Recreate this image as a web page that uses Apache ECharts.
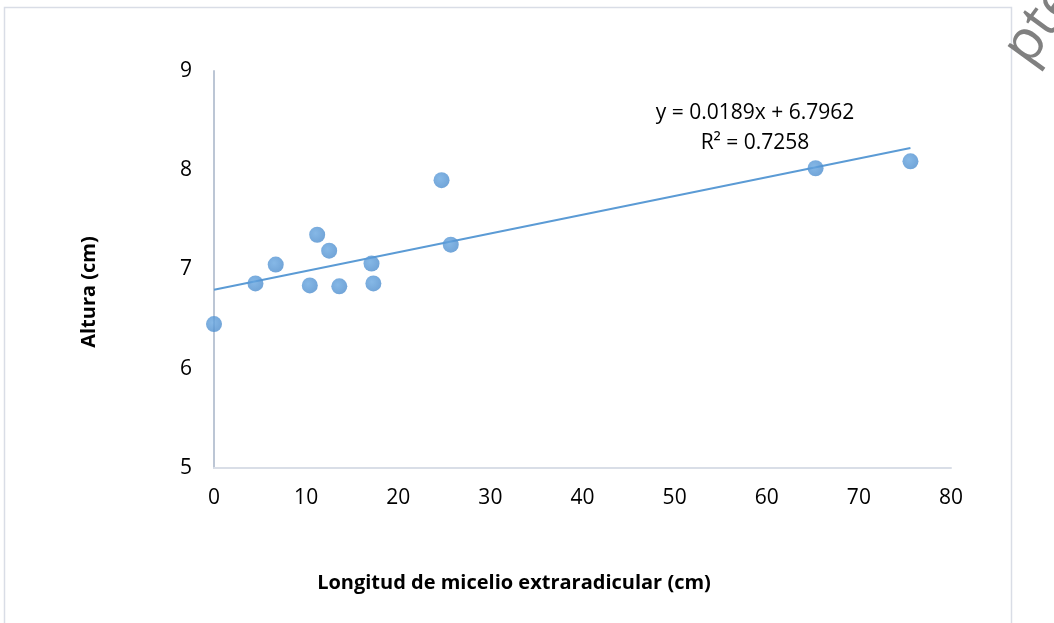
<!DOCTYPE html>
<html>
<head>
<meta charset="utf-8">
<script src="https://cdn.jsdelivr.net/npm/echarts@6/dist/echarts.min.js"></script>
<style>
html,body{margin:0;padding:0;background:#fff;}
#c{width:1054px;height:623px;}
</style>
</head>
<body>
<div id="c"></div>
<script>
const xValues = [0, 4.5, 6.7, 11.2, 12.5, 10.4, 13.6, 17.1, 17.3, 24.7, 25.7, 65.3, 75.6];
const yValues = [6.45, 6.86, 7.05, 7.35, 7.19, 6.84, 6.83, 7.06, 6.86, 7.90, 7.25, 8.02, 8.09];
const xTicks = [0, 10, 20, 30, 40, 50, 60, 70, 80];
const yTicks = [5, 6, 7, 8, 9];
const trendSlope = 0.0189;
const trendIntercept = 6.7962;
const trendX = [0, 75.6];
const equationText = 'y = 0.0189x + 6.7962';
const r2Text = 'R² = 0.7258';
const xTitle = 'Longitud de micelio extraradicular (cm)';
const yTitle = 'Altura (cm)';
const watermark = 'Accepted';

const points = xValues.map((x, i) => [x, yValues[i]]);
const trend = trendX.map(x => [x, trendSlope * x + trendIntercept]);

const chart = echarts.init(document.getElementById('c'), null, {renderer: 'canvas'});
const FONT = '"Open Sans", Lato, sans-serif';
chart.setOption({
  animation: false,
  backgroundColor: '#ffffff',
  grid: {left: 214, right: 103, top: 71, bottom: 155, containLabel: false},
  xAxis: {
    type: 'value', min: 0, max: 80, interval: 10,
    axisLine: {show: true, onZero: false, lineStyle: {color: '#d9dee7', width: 2}},
    axisTick: {show: false},
    splitLine: {show: false},
    axisLabel: {color: '#000', fontFamily: FONT, fontSize: 21, margin: 20}
  },
  yAxis: {
    type: 'value', min: 5, max: 9, interval: 1,
    axisLine: {show: true, onZero: false, lineStyle: {color: '#bcc6d5', width: 2}},
    axisTick: {show: false},
    splitLine: {show: false},
    axisLabel: {color: '#000', fontFamily: FONT, fontSize: 21, margin: 22}
  },
  series: [
    {
      type: 'line', data: trend, showSymbol: false, symbol: 'none',
      lineStyle: {color: '#5b9bd5', width: 2}, z: 1, silent: true
    },
    {
      type: 'scatter', data: points, symbol: 'circle', symbolSize: 16,
      itemStyle: {
        color: new echarts.graphic.RadialGradient(0.4, 0.4, 0.7, [
          {offset: 0, color: '#67a6e0'},
          {offset: 1, color: '#4b8bcc'}
        ])
      },
      z: 3
    }
  ],
  graphic: [
    {type: 'rect', shape: {x: 4.5, y: 7.5, width: 1007, height: 640}, style: {fill: 'none', stroke: '#d9dde6', lineWidth: 1.5}, z: -1},
    {type: 'text', x: 755, y: 113, style: {text: equationText, fill: '#000', font: '21px ' + FONT, textAlign: 'center', textVerticalAlign: 'middle'}},
    {type: 'text', x: 755, y: 143, style: {text: r2Text, fill: '#000', font: '21px ' + FONT, textAlign: 'center', textVerticalAlign: 'middle'}},
    {type: 'text', x: 514, y: 583, style: {text: xTitle, fill: '#000', font: 'bold 20px ' + FONT, textAlign: 'center', textVerticalAlign: 'middle'}},
    {type: 'text', x: 89, y: 292, rotation: Math.PI / 2, style: {text: yTitle, fill: '#000', font: 'bold 20px ' + FONT, textAlign: 'center', textVerticalAlign: 'middle'}},
    {type: 'text', x: 1016, y: 58, rotation: Math.PI * 0.3, style: {text: watermark.slice(4), fill: '#808080', font: '56px ' + FONT, textAlign: 'left', textVerticalAlign: 'middle'}}
  ]
});
</script>
</body>
</html>
